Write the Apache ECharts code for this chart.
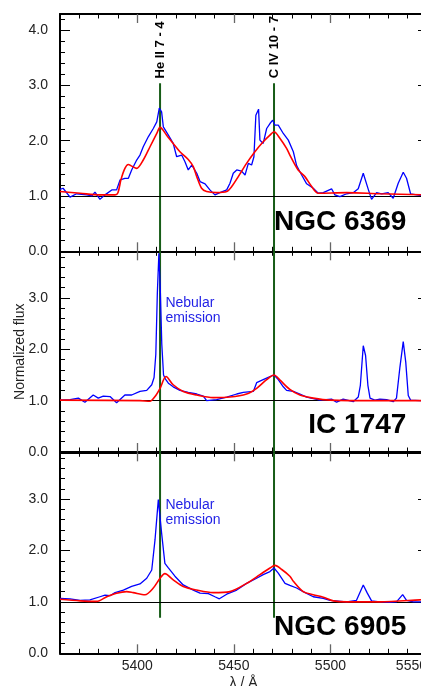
<!DOCTYPE html>
<html><head><meta charset="utf-8">
<script src="https://cdn.jsdelivr.net/npm/echarts@6/dist/echarts.min.js"></script>
<style>html,body{margin:0;padding:0;background:#fff}#c{width:421px;height:686px}</style>
</head><body><div id="c"></div>
<script>
// ---------- data ----------
const waveRange = [5360, 5550];
const majorWaveTicks = [5400, 5450, 5500, 5550];
const minorWaveTicks = [5370,5380,5390,5410,5420,5430,5440,5460,5470,5480,5490,5510,5520,5530,5540];
const panelNames = ['NGC 6369', 'IC 1747', 'NGC 6905'];
const panelMax = [4.29, 3.91, 3.91];
const continuumLevel = 1.0;
const heIIWave = 5411.8;
const civWave = 5470.8;
const lineLabels = ['He II 7 - 4', 'C IV 10 - 7'];
const lineSpanTop = [3.04, 3.91, 3.91];
const lineSpanBottom = [0, 0, 0.69];
const nebularText = 'Nebular\nemission';

const ngc6369Observed = [
 [5360.0,1.12],[5361.6,1.14],[5365.2,0.98],[5368.6,1.04],[5373.8,1.02],[5376.5,1.00],[5378.1,1.07],
 [5380.7,0.94],[5383.3,1.02],[5386.8,1.11],[5389.3,1.11],[5391.1,1.29],[5393.6,1.32],[5395.4,1.32],
 [5397.1,1.47],[5399.7,1.65],[5401.4,1.74],[5403.1,1.89],[5405.7,2.07],[5408.3,2.22],[5410.1,2.34],
 [5411.4,2.59],[5412.6,2.52],[5413.5,2.25],[5416.1,2.10],[5418.6,1.95],[5420.4,1.71],[5423.0,1.74],
 [5424.7,1.62],[5426.4,1.47],[5428.2,1.56],[5430.8,1.41],[5432.5,1.26],[5435.1,1.22],[5437.6,1.11],
 [5440.2,1.02],[5442.8,1.06],[5446.3,1.11],[5448.0,1.23],[5449.7,1.41],[5451.5,1.47],[5454.0,1.45],
 [5455.8,1.38],[5457.5,1.59],[5459.2,1.56],[5460.4,1.71],[5461.4,2.46],[5462.8,2.57],[5463.5,2.01],
 [5465.2,1.95],[5467.0,2.22],[5468.7,2.31],[5470.1,2.37],[5471.3,2.28],[5473.0,2.28],[5475.6,2.13],
 [5478.2,2.01],[5480.8,1.80],[5481.5,1.82],[5482.5,1.55],[5485.1,1.38],[5487.7,1.22],[5491.1,1.14],
 [5493.7,1.05],[5496.3,1.06],[5500.6,1.13],[5502.3,1.02],[5504.9,0.99],[5508.4,1.04],[5511.8,1.06],
 [5514.4,1.13],[5517.0,1.41],[5519.6,1.12],[5521.3,0.94],[5523.9,1.06],[5526.5,1.04],[5529.9,1.06],
 [5532.5,0.96],[5535.1,1.23],[5537.7,1.43],[5539.4,1.32],[5541.5,1.04],[5546.3,1.01],[5550.0,1.01]
];
const ngc6369Model = [
 [5360.0,1.08],[5370.4,1.05],[5380.7,1.02],[5388.5,1.02],[5390.0,1.06],[5391.6,1.30],[5393.6,1.50],
 [5395.4,1.57],[5397.1,1.54],[5399.7,1.50],[5403.1,1.65],[5406.6,1.89],[5410.1,2.13],[5411.8,2.24],
 [5415.2,2.10],[5418.6,1.95],[5422.1,1.80],[5426.4,1.66],[5429.0,1.53],[5430.8,1.35],[5433.3,1.14],
 [5435.9,1.08],[5441.1,1.06],[5446.3,1.08],[5448.9,1.17],[5452.3,1.35],[5456.6,1.59],[5460.9,1.80],
 [5465.2,1.98],[5468.7,2.10],[5470.8,2.16],[5473.9,2.04],[5477.3,1.86],[5479.0,1.74],[5483.3,1.47],
 [5486.8,1.35],[5490.3,1.17],[5493.7,1.05],[5508.4,1.06],[5525.6,1.04],[5550.0,1.02]
];
const ic1747Observed = [
 [5360.0,1.01],[5365.2,1.02],[5369.5,1.05],[5372.9,0.97],[5377.2,1.11],[5379.8,1.05],[5382.4,1.09],
 [5385.9,1.08],[5389.3,0.96],[5393.6,1.11],[5397.1,1.11],[5401.4,1.18],[5404.9,1.20],[5407.5,1.31],
 [5408.7,1.45],[5409.6,1.90],[5410.4,3.10],[5411.2,3.87],[5411.9,3.20],[5412.7,2.10],[5413.6,1.50],
 [5414.6,1.42],[5416.1,1.34],[5418.6,1.27],[5422.1,1.20],[5426.4,1.16],[5430.8,1.13],[5434.2,1.09],
 [5435.9,1.00],[5441.1,1.02],[5446.3,1.07],[5451.5,1.13],[5454.9,1.16],[5460.1,1.18],[5461.8,1.35],
 [5465.2,1.41],[5468.7,1.47],[5470.8,1.50],[5473.0,1.41],[5475.6,1.27],[5477.3,1.20],[5480.8,1.18],
 [5484.2,1.13],[5487.7,1.07],[5494.6,1.01],[5500.6,1.03],[5503.2,0.97],[5506.6,1.03],[5511.8,0.98],
 [5514.4,1.07],[5515.5,1.30],[5517.0,2.07],[5518.2,1.88],[5519.4,1.30],[5520.5,1.05],[5523.0,1.01],
 [5525.6,1.03],[5529.1,1.02],[5532.5,0.98],[5534.2,1.05],[5536.0,1.66],[5537.7,2.15],[5539.0,1.75],
 [5540.3,1.10],[5541.5,1.01],[5546.3,1.00],[5550.0,1.00]
];
const ic1747Model = [
 [5360.0,1.01],[5401.4,1.00],[5406.6,0.99],[5409.2,1.08],[5411.8,1.24],[5414.9,1.47],[5418.6,1.31],
 [5423.8,1.18],[5430.8,1.11],[5439.3,1.06],[5448.0,1.07],[5456.6,1.13],[5461.8,1.24],[5467.0,1.41],
 [5470.8,1.50],[5473.9,1.40],[5479.0,1.22],[5484.2,1.11],[5491.1,1.05],[5499.8,1.01],[5525.6,1.00],
 [5550.0,1.00]
];
const ngc6905Observed = [
 [5360.0,1.07],[5365.2,1.06],[5370.4,1.03],[5375.5,1.04],[5380.7,1.10],[5383.3,1.13],[5385.9,1.12],
 [5388.5,1.18],[5392.8,1.23],[5397.1,1.30],[5401.4,1.35],[5404.9,1.46],[5407.5,1.62],[5409.2,2.21],
 [5410.9,2.99],[5412.6,2.34],[5414.3,1.75],[5416.1,1.66],[5419.5,1.50],[5423.8,1.33],[5429.0,1.23],
 [5432.5,1.17],[5436.8,1.16],[5440.2,1.10],[5442.5,1.06],[5446.3,1.15],[5451.5,1.23],[5456.6,1.36],
 [5461.8,1.46],[5465.2,1.53],[5468.7,1.59],[5470.8,1.66],[5473.0,1.56],[5476.5,1.36],[5479.0,1.32],
 [5482.5,1.27],[5485.9,1.20],[5491.1,1.10],[5496.3,1.07],[5499.8,1.03],[5508.4,1.00],[5513.5,1.03],
 [5517.0,1.33],[5519.1,1.17],[5521.3,1.02],[5525.6,1.00],[5530.8,0.99],[5534.2,1.00],[5537.4,1.14],
 [5539.4,1.03],[5542.9,1.00],[5550.0,1.00]
];
const ngc6905Model = [
 [5360.0,1.05],[5370.4,1.02],[5379.0,1.01],[5384.2,1.10],[5389.3,1.17],[5394.5,1.20],[5397.9,1.18],
 [5404.0,1.14],[5408.3,1.27],[5411.8,1.46],[5414.3,1.55],[5418.6,1.43],[5423.8,1.30],[5430.8,1.23],
 [5439.3,1.18],[5448.0,1.20],[5456.6,1.36],[5463.5,1.53],[5468.7,1.66],[5471.3,1.71],[5474.8,1.63],
 [5479.0,1.50],[5480.8,1.40],[5485.9,1.20],[5491.1,1.14],[5496.3,1.09],[5501.5,1.02],[5508.4,1.00],
 [5525.6,1.00],[5546.3,1.04],[5550.0,1.05]
];
const observedSets = [ngc6369Observed, ic1747Observed, ngc6905Observed];
const modelSets = [ngc6369Model, ic1747Model, ngc6905Model];
const namePosition = [[5539.6, 0.52], [5539.6, 0.53], [5539.6, 0.51]];
const lineLabelPosition = [[heIIWave, 3.64], [civWave, 3.69]];
const nebularPosition = [null, [5414.3, 2.75], [5414.3, 2.73]];

// ---------- chart ----------
const FONT = '"Liberation Sans", Arial, sans-serif';
const grids = [
  {left: 60, right: -6, top: 14, height: 237.3},
  {left: 60, right: -6, top: 251.3, height: 200.7},
  {left: 60, right: -6, top: 452.3, height: 201}
].map(g => Object.assign(g, {containLabel: false, outerBoundsMode: 'none'}));
const xAxes = [], yAxes = [], series = [];
grids.forEach((g, i) => {
  const base = {gridIndex: i, type: 'value', min: waveRange[0], max: waveRange[1], splitLine: {show: false}};
  const lastPanel = i === grids.length - 1;
  ['bottom', 'top'].forEach(pos => {
    xAxes.push(Object.assign({}, base, {
      position: pos,
      axisLine: {show: true, onZero: false, lineStyle: {color: '#000', width: 2}},
      axisTick: {show: true, inside: true, length: 9, customValues: majorWaveTicks, lineStyle: {color: '#666', width: 1.3}},
      axisLabel: {show: lastPanel && pos === 'bottom', customValues: majorWaveTicks, alignMaxLabel: 'right',
        formatter: v => String(v),
        color: '#222', fontSize: 14, fontFamily: FONT, margin: 6},
      name: (lastPanel && pos === 'bottom') ? 'λ / Å' : '',
      nameLocation: 'middle', nameGap: 23, nameMoveOverlap: false,
      nameTextStyle: {color: '#222', fontSize: 14, fontFamily: FONT}
    }));
    xAxes.push(Object.assign({}, base, {
      position: pos,
      axisLine: {show: false, onZero: false},
      axisTick: {show: true, inside: true, length: 4.5, customValues: minorWaveTicks, lineStyle: {color: '#000', width: 1}},
      axisLabel: {show: false}
    }));
  });
  yAxes.push({
    gridIndex: i, type: 'value', min: 0, max: panelMax[i], interval: 1, position: 'left',
    axisLine: {show: true, onZero: false, lineStyle: {color: '#000', width: 2}},
    axisTick: {show: true, inside: true, length: 10, lineStyle: {color: '#000', width: 1}},
    minorTick: {show: true, splitNumber: 5, length: 5, lineStyle: {color: '#000', width: 1}},
    splitLine: {show: false},
    axisLabel: {color: '#222', fontSize: 14, fontFamily: FONT, margin: 12,
      formatter: v => Math.abs(v - Math.round(v)) < 1e-6 ? v.toFixed(1) : ''},
    name: i === 1 ? 'Normalized flux' : '', nameLocation: 'middle', nameGap: 33, nameMoveOverlap: false,
    nameTextStyle: {color: '#222', fontSize: 14, fontFamily: FONT}
  });
  yAxes.push({
    gridIndex: i, type: 'value', min: 0, max: panelMax[i], interval: 1, position: 'right',
    axisLine: {show: true, onZero: false, lineStyle: {color: '#000', width: 2}},
    axisTick: {show: true, inside: true, length: 9, lineStyle: {color: '#000', width: 1}},
    splitLine: {show: false}, axisLabel: {show: false}
  });
  const xi = i * 4, yi = i * 2;
  [heIIWave, civWave].forEach((w, k) => {
    const s = {
      type: 'line', xAxisIndex: xi, yAxisIndex: yi, z: 1, symbol: 'none', silent: true,
      data: [[w, lineSpanTop[i]], [w, lineSpanBottom[i]]],
      lineStyle: {color: '#175c17', width: 2}
    };
    if (i === 0) {
      s.markPoint = {symbol: 'circle', symbolSize: 1, itemStyle: {color: 'rgba(0,0,0,0)'}, silent: true,
        data: [{coord: lineLabelPosition[k], label: {show: true, position: 'inside', rotate: 90,
          formatter: lineLabels[k], color: '#000', fontSize: 13, fontWeight: 'bold', fontFamily: FONT}}]};
    }
    series.push(s);
  });
  const obs = {
    type: 'line', xAxisIndex: xi, yAxisIndex: yi, z: 3, symbol: 'none', silent: true,
    data: observedSets[i], lineStyle: {color: '#0000ff', width: 1.3},
    markLine: {silent: true, symbol: 'none', label: {show: false}, z: 2,
      lineStyle: {color: '#000', width: 1, type: 'solid'}, data: [{yAxis: continuumLevel}]}
  };
  if (nebularPosition[i]) {
    obs.markPoint = {symbol: 'circle', symbolSize: 1, itemStyle: {color: 'rgba(0,0,0,0)'}, silent: true,
      data: [{coord: nebularPosition[i], label: {show: true, position: 'right', distance: 0,
        formatter: nebularText, color: '#1f1fe6', fontSize: 14, lineHeight: 15, align: 'left', fontFamily: FONT}}]};
  }
  series.push(obs);
  series.push({
    type: 'line', xAxisIndex: xi, yAxisIndex: yi, z: 4, symbol: 'none', silent: true, smooth: 0.3,
    data: modelSets[i], lineStyle: {color: '#ff0000', width: 1.6},
    markPoint: {symbol: 'circle', symbolSize: 1, itemStyle: {color: 'rgba(0,0,0,0)'}, silent: true,
      data: [{coord: namePosition[i], label: {show: true, position: 'left', distance: 0,
        formatter: panelNames[i], color: '#000', fontSize: 28, fontWeight: 'bold', fontFamily: FONT}}]}
  });
});

const chart = echarts.init(document.getElementById('c'), null, {renderer: 'canvas'});
chart.setOption({
  animation: false,
  backgroundColor: '#fff',
  grid: grids,
  xAxis: xAxes,
  yAxis: yAxes,
  series: series
});
</script></body></html>
